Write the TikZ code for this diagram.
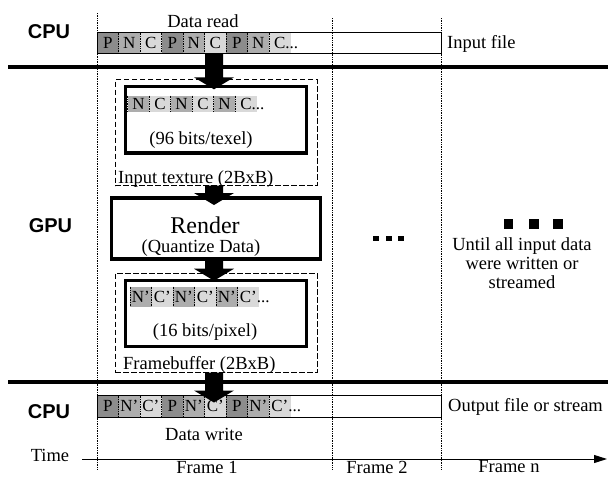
\documentclass[tikz,border=0pt]{standalone}
\usepackage{fontspec}
\setmainfont{Liberation Serif}
\newfontfamily\lsans{Liberation Sans}
\usetikzlibrary{calc,arrows.meta}
\definecolor{cP}{gray}{0.55}
\definecolor{cN}{gray}{0.68}
\definecolor{cC}{gray}{0.85}
\newcommand\cellrow[5]{%
  \foreach \l/\c [count=\i from 0] in {#5}{%
    \node[cellbox, fill=\c, minimum height=#4pt] (#1\i) at ({#2+21.5*\i},#3) {\l};
    \draw[sep] (#1\i.north west) -- (#1\i.south west);
  }%
}
\newcommand\blockarrow[2]{%
  \fill let \p1=(#1), \p2=(#2) in
    (\x1-9pt,\y1) -- (\x1+9pt,\y1) -- (\x1+9pt,\y2+12pt) -- (\x1+20pt,\y2+12pt)
    -- (\x1,\y2) -- (\x1-20pt,\y2+12pt) -- (\x1-9pt,\y2+12pt) -- cycle;}
\begin{document}
\begin{tikzpicture}[x=1pt,y=-1pt,
  txt/.style={font=\fontsize{18.5}{19}\selectfont, inner sep=0pt},
  cpu/.style={font=\lsans\bfseries\fontsize{20}{22}\selectfont, inner sep=0pt},
  cellbox/.style={anchor=north west, inner sep=0pt, outer sep=0pt, minimum width=21.5pt, font=\fontsize{17}{19}\selectfont},
  sep/.style={densely dotted, line width=0.7pt},
  bar/.style={draw, line width=1pt, anchor=north west, inner sep=0pt, outer sep=0pt, minimum width=344pt},
  dashbox/.style={draw, dash pattern=on 5.5pt off 2.5pt, line width=0.9pt, anchor=north west, inner sep=0pt, outer sep=0pt},
  thickbox/.style={draw, line width=3.5pt, anchor=north west, inner sep=0pt, outer sep=0pt},
  rule/.style={line width=3.5pt},
  sq/.style={fill=black, draw=none, inner sep=0pt, outer sep=0pt}
]
\useasboundingbox (0,0) rectangle (608,477);

% frame separators
\draw[sep] (97,13) -- (97,470);
\draw[sep] (332,18) -- (332,470);
\draw[sep] (441,18) -- (441,470);

% CPU / GPU separation rules
\draw[rule] (8,67) -- (608,67);
\draw[rule] (8,382) -- (608,382);

% row labels
\node[cpu] (cpu1) at (49,32) {CPU};
\node[cpu] (gpu) at (50.5,226) {GPU};
\node[cpu] (cpu2) at (49,412) {CPU};

% input bar
\cellrow{a}{97}{32.5}{21}{P/cP,N/cN,C/cC,P/cP,N/cN,C/cC,P/cP,N/cN,{C\rlap{...}}/cC}
\node[bar, minimum height=21pt] (inbar) at (97,32.5) {};
\node[txt] (dread) at (203,21) {Data read};
\node[txt, anchor=west] (infile) at (447,44) {Input file};

% input texture
\node[dashbox, minimum width=202pt, minimum height=106pt] (texdash) at (115,79.5) {};
\node[thickbox, minimum width=180.6pt, minimum height=66.7pt] (texbox) at (125.7,86.3) {};
\cellrow{b}{127.7}{95.7}{16.6}{N/cN,C/cC,N/cN,C/cC,N/cN,{C\rlap{...}}/cC}
\node[txt] (bits1) at (201,140) {(96 bits/texel)};
\node[txt, anchor=west] (texlab) at (118,179) {Input texture (2BxB)};

% render
\node[thickbox, minimum width=209pt, minimum height=61pt] (render) at (111.3,198) {};
\node[txt, font=\fontsize{24}{26}\selectfont] (rtitle) at (205,225) {Render};
\node[txt] (rsub) at (201,248) {(Quantize Data)};

% framebuffer
\node[dashbox, minimum width=202pt, minimum height=99.5pt] (fbdash) at (115,273) {};
\node[thickbox, minimum width=181pt, minimum height=65.6pt] (fbbox) at (125.3,280.7) {};
\cellrow{c}{130}{286.7}{20}{N'/cN,C'/cC,N'/cN,C'/cC,N'/cN,{C'\rlap{...}}/cC}
\node[txt] (bits2) at (205,332) {(16 bits/pixel)};
\node[txt, anchor=west] (fblab) at (123,365) {Framebuffer (2BxB)};

% output bar
\cellrow{d}{97}{395.5}{21.5}{P/cP,N'/cN,C'/cC,P/cP,N'/cN,C'/cC,P/cP,N'/cN,{C'\rlap{...}}/cC}
\node[bar, minimum height=21.5pt] (outbar) at (97,395.5) {};
\node[txt, anchor=west] (outfile) at (448,407) {Output file or stream};
\node[txt] (dwrite) at (204,434) {Data write};

% block arrows
\coordinate (ax) at (214,0);
\blockarrow{inbar.south -| ax}{[yshift=-3pt]texbox.north -| ax}
\blockarrow{texdash.south -| ax}{[yshift=-7pt]render.north -| ax}
\blockarrow{render.south -| ax}{fbbox.north -| ax}
\blockarrow{fbdash.south -| ax}{[yshift=-7pt]outbar.north -| ax}

% continuation marks
\node[sq, minimum width=6pt, minimum height=5.3pt] (d1) at (376.3,238.7) {};
\node[sq, minimum width=6pt, minimum height=5.3pt] (d2) at (389,238.7) {};
\node[sq, minimum width=6pt, minimum height=5.3pt] (d3) at (401.3,238.7) {};
\node[sq, minimum width=9.5pt, minimum height=10pt] (e1) at (508.5,223.5) {};
\node[sq, minimum width=9.5pt, minimum height=10pt] (e2) at (534,223.5) {};
\node[sq, minimum width=9.5pt, minimum height=10pt] (e3) at (558,223.5) {};
\node[txt, align=center] (until) at (522,263) {Until all input data\\were written or\\streamed};

% time axis
\node[txt] (time) at (50,455) {Time};
\coordinate (t0) at (82,459);
\coordinate (t1) at (607,459);
\draw[line width=1pt, -{Triangle[length=13pt,width=8pt]}] (t0) -- (t1);
\node[txt] (f1) at (207,467) {Frame 1};
\node[txt] (f2) at (377,467) {Frame 2};
\node[txt] (fn) at (509,467) {Frame n};
\end{tikzpicture}
\end{document}
